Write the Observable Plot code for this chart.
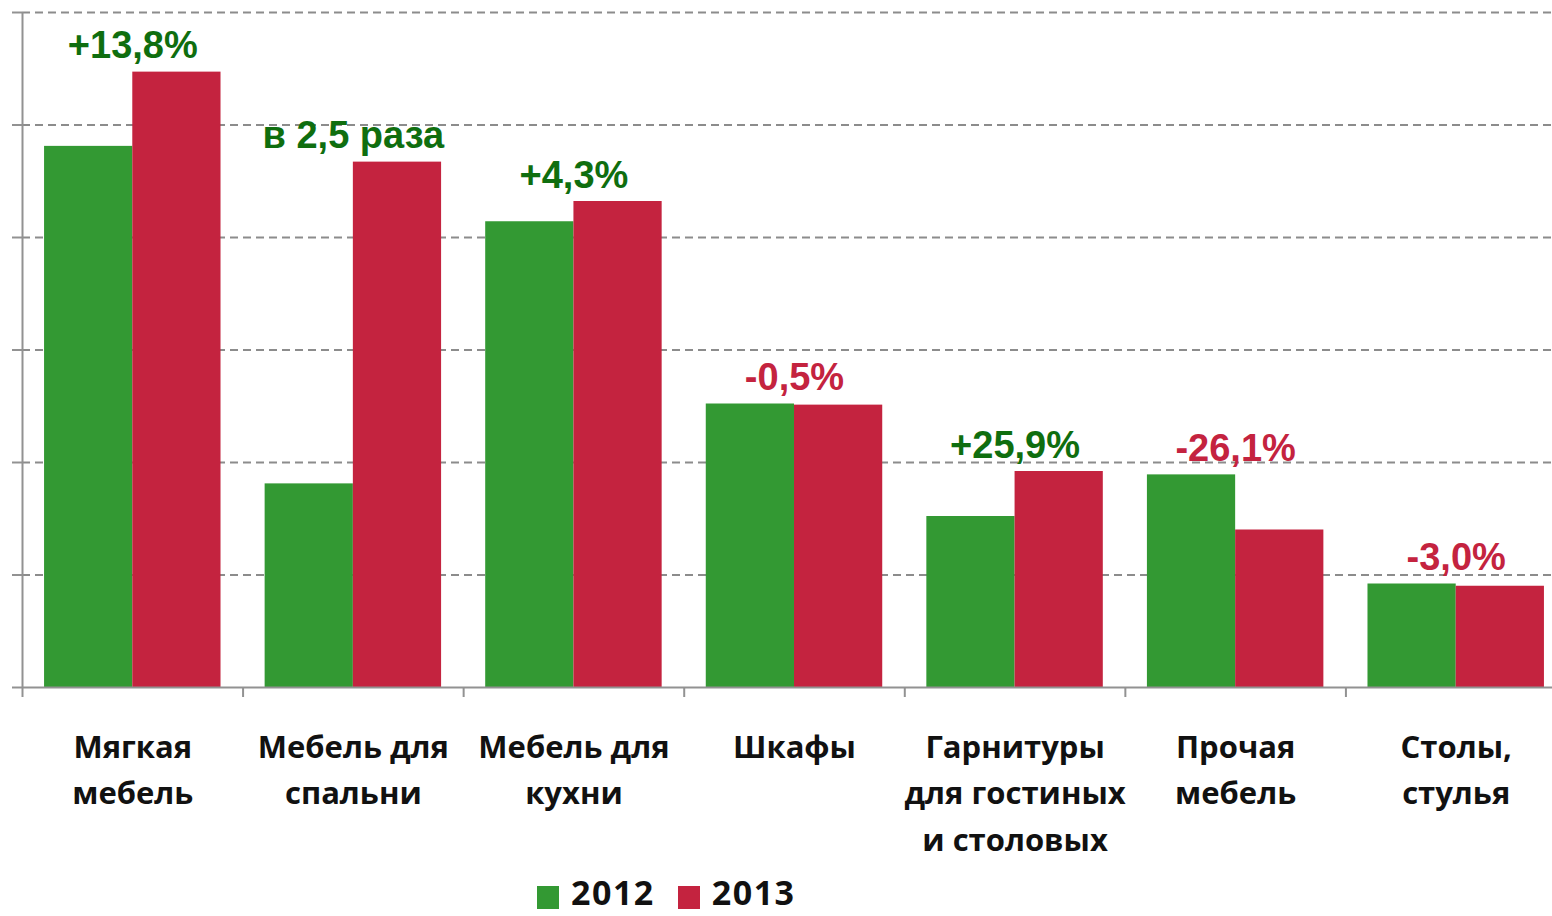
<!DOCTYPE html>
<html><head><meta charset="utf-8">
<script src="https://cdn.jsdelivr.net/npm/d3@7"></script>
<script src="https://cdn.jsdelivr.net/npm/@observablehq/plot@0.6"></script>
<style>
html,body{margin:0;padding:0;background:#fff;overflow:hidden;}
#wrap{width:1552px;overflow:hidden;}
#wrap svg{max-width:none !important;display:block;}
.legend{position:absolute;top:874px;left:537px;display:flex;align-items:center;height:36px;line-height:36px;font-family:"Open Sans",sans-serif;font-weight:bold;font-size:34px;letter-spacing:1.5px;color:#111;}
.sw{width:22px;height:23px;margin-right:12px;position:relative;top:5px;}
.item{display:flex;align-items:center;margin-right:23px;}
</style></head><body>
<div id="wrap"></div>
<div class="legend" id="legend"></div>
<script>
const categories = ["Мягкая\nмебель", "Мебель для\nспальни", "Мебель для\nкухни", "Шкафы", "Гарнитуры\nдля гостиных\nи столовых", "Прочая\nмебель", "Столы,\nстулья"];
const years = ["2012", "2013"];
const values2012 = [4.81, 1.81, 4.14, 2.52, 1.52, 1.89, 0.92];
const values2013 = [5.47, 4.67, 4.32, 2.51, 1.92, 1.40, 0.90];
const changeLabels = ["+13,8%", "в 2,5 раза", "+4,3%", "-0,5%", "+25,9%", "-26,1%", "-3,0%"];
const yTicks = [0, 1, 2, 3, 4, 5, 6];

const colors = ["#339933", "#C4233F"];
const upColor = "#0F6E0F";
const downColor = "#C4233F";

// tidy table for the bars: each category is one unit on a linear x scale,
// the two years share the middle 80% of it
const series = [values2012, values2013];
const rows = [];
categories.forEach((c, i) => {
  years.forEach((y, j) => {
    rows.push({cat: i, year: y, value: series[j][i], x1: i + 0.1 + 0.4 * j, x2: i + 0.5 + 0.4 * j});
  });
});
const notes = changeLabels.map((t, i) => ({cat: i + 0.5, text: t, top: Math.max(values2012[i], values2013[i]), down: t.startsWith("-")}));

const labelFont = {fontFamily: "Liberation Sans", fontWeight: "bold", fontSize: 38};

const plot = Plot.plot({
  width: 1566, height: 870,
  marginLeft: 22, marginRight: 0, marginTop: 12, marginBottom: 183,
  x: {type: "linear", domain: [0, categories.length], axis: null},
  y: {domain: [0, 6], axis: null},
  color: {domain: years, range: colors},
  style: {background: "white", overflow: "visible"},
  marks: [
    Plot.gridY(yTicks.slice(1), {stroke: "#8c8c8c", strokeOpacity: 1, strokeDasharray: "8,5", strokeWidth: 2}),
    Plot.rectY(rows, {x1: "x1", x2: "x2", y1: 0, y2: "value", fill: "year"}),
    Plot.ruleY([0], {stroke: "#929292", strokeWidth: 2}),
    Plot.ruleX([0], {stroke: "#929292", strokeWidth: 2}),
    Plot.axisX(d3.range(categories.length + 1), {tickSize: 10, tickFormat: () => "", stroke: "#929292", strokeWidth: 2}),
    Plot.axisY(yTicks, {tickSize: 10, tickFormat: () => "", stroke: "#929292", strokeWidth: 2}),
    Plot.text(categories, {x: (d, i) => i + 0.5, y: 0, dy: 38, lineAnchor: "top", lineHeight: 1.49,
      fontFamily: "Open Sans", fontWeight: "bold", fontSize: 31, fill: "#111"}),
    Plot.text(notes.filter(d => !d.down), {x: "cat", y: "top", text: "text", dy: -26, lineAnchor: "middle", fill: upColor, ...labelFont}),
    Plot.text(notes.filter(d => d.down), {x: "cat", y: "top", text: "text", dy: -26, lineAnchor: "middle", fill: downColor, ...labelFont})
  ]
});
document.getElementById("wrap").appendChild(plot);

const legend = document.getElementById("legend");
years.forEach((y, j) => {
  const item = document.createElement("div");
  item.className = "item";
  item.innerHTML = `<div class="sw" style="background:${colors[j]}"></div><span>${y}</span>`;
  legend.appendChild(item);
});
</script>
</body></html>
